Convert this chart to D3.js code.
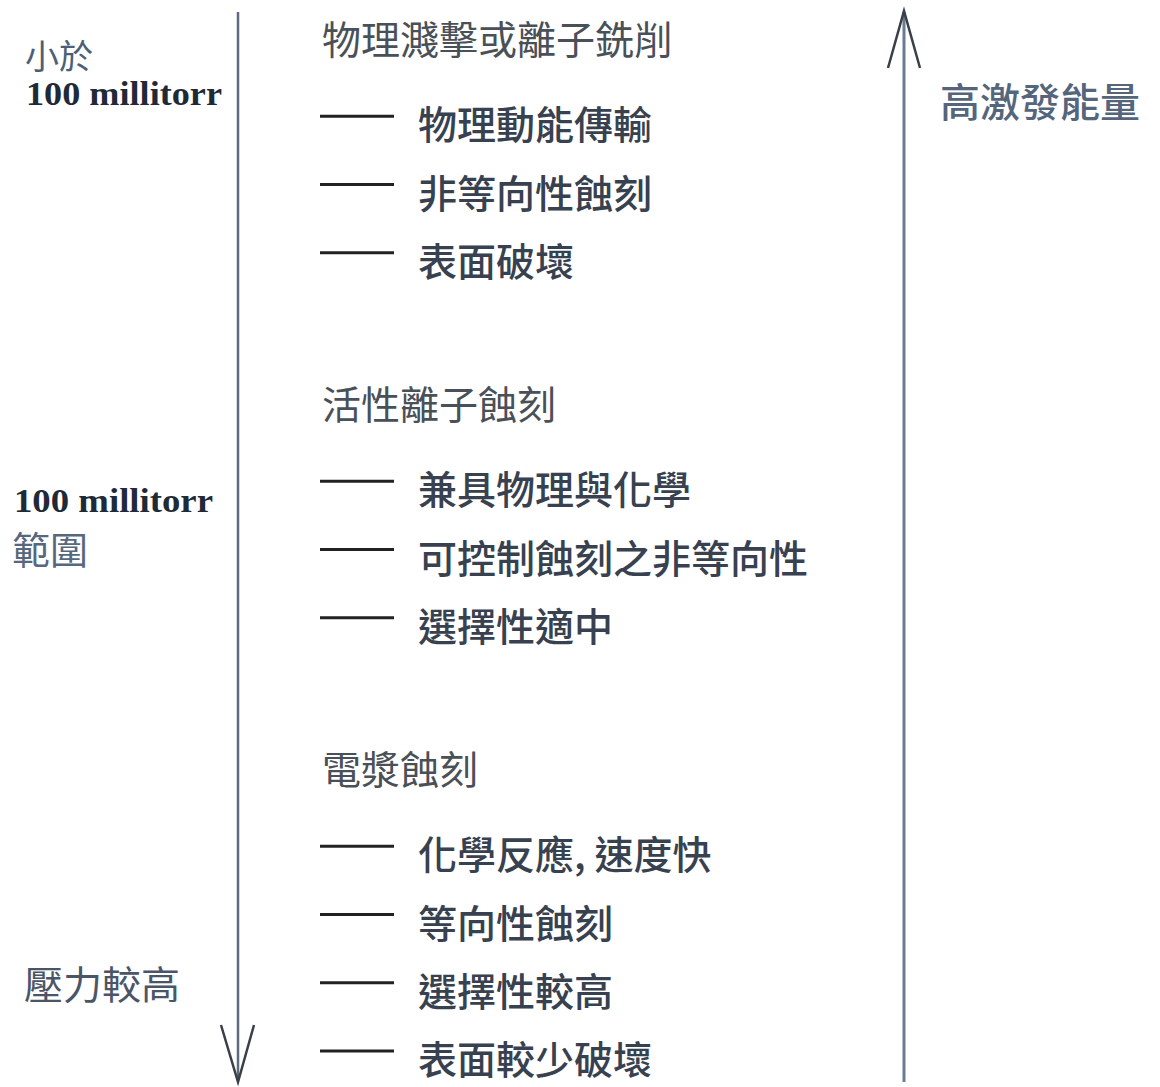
<!DOCTYPE html>
<html><head><meta charset="utf-8">
<script src="https://cdn.jsdelivr.net/npm/d3@7"></script>
<style>html,body{margin:0;padding:0;background:#fff;}svg{display:block;}</style>
</head><body>
<svg id="chart" width="1160" height="1087"></svg>
<script>
// ---- data ----
const sectionTitles = ["物理濺擊或離子銑削", "活性離子蝕刻", "電漿蝕刻"];
const section1Items = ["物理動能傳輸", "非等向性蝕刻", "表面破壞"];
const section2Items = ["兼具物理與化學", "可控制蝕刻之非等向性", "選擇性適中"];
const section3Items = ["化學反應, 速度快", "等向性蝕刻", "選擇性較高", "表面較少破壞"];
const leftTopLabel = ["小於", "100 millitorr"];
const leftMidLabel = ["100 millitorr", "範圍"];
const leftBottomLabel = ["壓力較高"];
const rightLabel = ["高激發能量"];

const sections = [section1Items, section2Items, section3Items];

// ---- layout via slots ----
const rows = [];
let slot = 0;
sections.forEach((items, i) => {
  rows.push({type: "heading", text: sectionTitles[i], slot: slot});
  slot += 1.25;
  items.forEach((t, k) => {
    rows.push({type: "item", text: t, slot: slot});
    if (k < items.length - 1) slot += 1;
  });
  slot += 2.1;
});
const maxSlot = d3.max(rows, d => d.slot);
const y = d3.scaleLinear().domain([0, maxSlot]).range([37, 1057]);

const svg = d3.select("#chart");
const cjk = "'Noto Sans CJK TC','Noto Sans CJK SC',sans-serif";
const serif = "'Liberation Serif','DejaVu Serif',serif";

// left downward arrow
const lx = 238;
svg.append("line").attr("x1", lx).attr("x2", lx).attr("y1", 12).attr("y2", 1080)
  .attr("stroke", "#5d6b7d").attr("stroke-width", 2.5);
svg.append("path").attr("d", `M${lx-17},1025 L${lx},1082 L${lx+16},1025`)
  .attr("fill", "none").attr("stroke", "#3a4048").attr("stroke-width", 2.5);

// right upward arrow
const rx = 904;
svg.append("line").attr("x1", rx).attr("x2", rx).attr("y1", 1082).attr("y2", 12)
  .attr("stroke", "#6a7c93").attr("stroke-width", 3);
svg.append("path").attr("d", `M${rx-16},68 L${rx},11 L${rx+16},68`)
  .attr("fill", "none").attr("stroke", "#3a4048").attr("stroke-width", 2.5);

// middle rows
const g = svg.append("g");
g.selectAll("text.row").data(rows).join("text")
  .attr("class", "row")
  .attr("x", d => d.type === "heading" ? 322 : 418)
  .attr("y", d => y(d.slot))
  .attr("dominant-baseline", "central")
  .attr("font-family", cjk)
  .attr("font-size", 39)
  .attr("font-weight", d => d.type === "heading" ? 400 : 500)
  .attr("fill", d => d.type === "heading" ? "#4a5058" : "#38414f")
  .text(d => d.text);

g.selectAll("line.dash").data(rows.filter(d => d.type === "item")).join("line")
  .attr("class", "dash")
  .attr("x1", 320).attr("x2", 394)
  .attr("y1", d => y(d.slot) - 6).attr("y2", d => y(d.slot) - 6)
  .attr("stroke", "#222").attr("stroke-width", 3);

// left labels
svg.append("text").attr("x", 25).attr("y", 54).attr("dominant-baseline", "central")
  .attr("font-family", cjk).attr("font-size", 34).attr("fill", "#4d5f78").text(leftTopLabel[0]);
svg.append("text").attr("x", 26).attr("y", 105)
  .attr("font-family", serif).attr("font-weight", "bold").attr("font-size", 33)
  .attr("textLength", 196).attr("lengthAdjust", "spacingAndGlyphs")
  .attr("fill", "#1f2a38").text(leftTopLabel[1]);

svg.append("text").attr("x", 14).attr("y", 512)
  .attr("font-family", serif).attr("font-weight", "bold").attr("font-size", 33)
  .attr("textLength", 199).attr("lengthAdjust", "spacingAndGlyphs")
  .attr("fill", "#1f2a38").text(leftMidLabel[0]);
svg.append("text").attr("x", 12).attr("y", 547).attr("dominant-baseline", "central")
  .attr("font-family", cjk).attr("font-size", 38).attr("fill", "#56677e").text(leftMidLabel[1]);

svg.append("text").attr("x", 24).attr("y", 982).attr("dominant-baseline", "central")
  .attr("font-family", cjk).attr("font-size", 39).attr("fill", "#4a5568").text(leftBottomLabel[0]);

// right label
svg.append("text").attr("x", 940).attr("y", 100).attr("dominant-baseline", "central")
  .attr("font-family", cjk).attr("font-size", 40).attr("font-weight", 500)
  .attr("fill", "#55657c").text(rightLabel[0]);
</script>
</body></html>
